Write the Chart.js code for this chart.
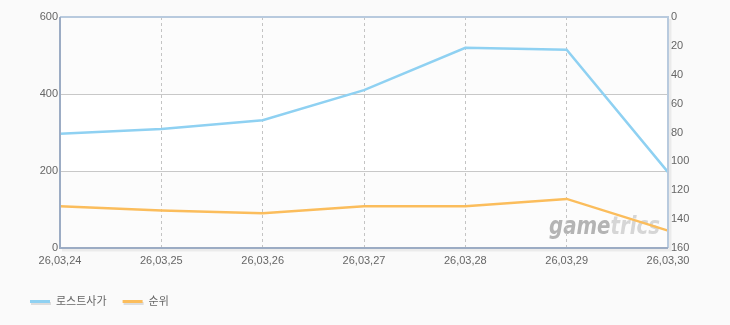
<!DOCTYPE html>
<html>
<head>
<meta charset="utf-8">
<script src="https://cdn.jsdelivr.net/npm/chart.js@4"></script>
<style>
  body { margin: 0; background: #fafafa; }
  canvas { display: block; }
</style>
</head>
<body>
<canvas id="myChart" width="730" height="325"></canvas>
<script>
const dates = ['26,03,24', '26,03,25', '26,03,26', '26,03,27', '26,03,28', '26,03,29', '26,03,30']
const players = [297, 309, 332, 410, 520, 515, 197]
const ranks = [131, 134, 136, 131, 131, 126, 148]
const leftTicks = [0, 200, 400, 600]
const rightTicks = [0, 20, 40, 60, 80, 100, 120, 140, 160]

const blue = '#8fd1f2'
const orange = '#fbbd5c'
const font = { family: "'Liberation Sans', 'Noto Sans CJK KR', sans-serif", size: 11 }

// background bands, watermark, frame and legend
const decor = {
  id: 'decor',
  beforeDraw(chart) {
    const c = chart.ctx
    const a = chart.chartArea
    const y = chart.scales.y
    c.save()
    c.fillStyle = '#fafafa'
    c.fillRect(0, 0, chart.width, chart.height)
    c.fillStyle = '#fcfcfc'
    c.fillRect(a.left, a.top, a.right - a.left, a.bottom - a.top)
    c.fillStyle = '#ffffff'
    const y400 = y.getPixelForValue(400)
    const y200 = y.getPixelForValue(200)
    c.fillRect(a.left, y400, a.right - a.left, y200 - y400)

    c.font = "italic bold 24px 'DejaVu Sans', sans-serif"
    c.textBaseline = 'alphabetic'
    const w1 = c.measureText('game').width
    const w2 = c.measureText('trics').width
    c.save()
    c.translate(a.right - 119, a.bottom - 14)
    c.scale(111 / (w1 + w2), 1)
    c.fillStyle = '#b4b4b4'
    c.fillText('game', 0, 0)
    c.fillStyle = '#d6d6d6'
    c.fillText('trics', w1, 0)
    c.restore()
    c.restore()
  },
  afterDatasetsDraw(chart) {
    const c = chart.ctx
    const a = chart.chartArea
    c.save()
    // shadow
    c.strokeStyle = 'rgba(0,0,0,0.06)'
    c.lineWidth = 3
    c.beginPath()
    c.moveTo(a.right + 2, a.top + 2)
    c.lineTo(a.right + 2, a.bottom + 2)
    c.lineTo(a.left + 2, a.bottom + 2)
    c.stroke()
    c.lineWidth = 2
    c.strokeStyle = '#b8cade'
    c.beginPath()
    c.moveTo(a.left, a.top)
    c.lineTo(a.right, a.top)
    c.lineTo(a.right, a.bottom)
    c.stroke()
    c.strokeStyle = '#9cacc4'
    c.beginPath()
    c.moveTo(a.left, a.top)
    c.lineTo(a.left, a.bottom)
    c.lineTo(a.right, a.bottom)
    c.stroke()
    c.restore()
  },
  afterDraw(chart) {
    const c = chart.ctx
    c.save()
    c.font = "11px 'Noto Sans CJK KR', sans-serif"
    c.textBaseline = 'middle'
    let x = 30
    chart.data.datasets.forEach(ds => {
      c.fillStyle = '#dddddd'
      c.fillRect(x + 1, 302, 20, 3)
      c.fillStyle = ds.borderColor
      c.fillRect(x, 300, 20, 3)
      c.fillStyle = '#666666'
      c.fillText(ds.label, x + 26, 301)
      x += 26 + c.measureText(ds.label).width + 16
    })
    c.restore()
  }
}

new Chart(document.getElementById('myChart'), {
  type: 'line',
  data: {
    labels: dates,
    datasets: [{
      label: '로스트사가',
      data: players,
      yAxisID: 'y',
      borderColor: blue,
      backgroundColor: blue,
      borderWidth: 2.5,
      pointRadius: 0,
      tension: 0
    }, {
      label: '순위',
      data: ranks,
      yAxisID: 'y1',
      borderColor: orange,
      backgroundColor: orange,
      borderWidth: 2.5,
      pointRadius: 0,
      tension: 0
    }]
  },
  options: {
    responsive: false,
    animation: false,
    layout: { padding: { top: 17, left: 0, right: 0, bottom: 0 } },
    plugins: {
      legend: { display: false },
      tooltip: { enabled: false }
    },
    scales: {
      x: {
        offset: false,
        border: { display: false, dash: [3, 3] },
        grid: { color: '#c4c4c4', drawTicks: false, lineWidth: 1 },
        ticks: { color: '#666', font: font, padding: 6, maxRotation: 0, autoSkip: false },
        afterFit(s) { s.height = 77 }
      },
      y: {
        position: 'left',
        min: 0,
        max: 600,
        border: { display: false },
        grid: { color: '#c8c8c8', drawTicks: false },
        afterBuildTicks(s) { s.ticks = leftTicks.map(v => ({ value: v })) },
        ticks: { color: '#666', font: font, padding: 2 },
        afterFit(s) { s.width = 60 }
      },
      y1: {
        position: 'right',
        reverse: true,
        min: 0,
        max: 160,
        border: { display: false },
        grid: { display: false, drawTicks: false },
        afterBuildTicks(s) { s.ticks = rightTicks.map(v => ({ value: v })) },
        ticks: { color: '#666', font: font, padding: 3 },
        afterFit(s) { s.width = 62 }
      }
    }
  },
  plugins: [decor]
})
</script>
</body>
</html>
